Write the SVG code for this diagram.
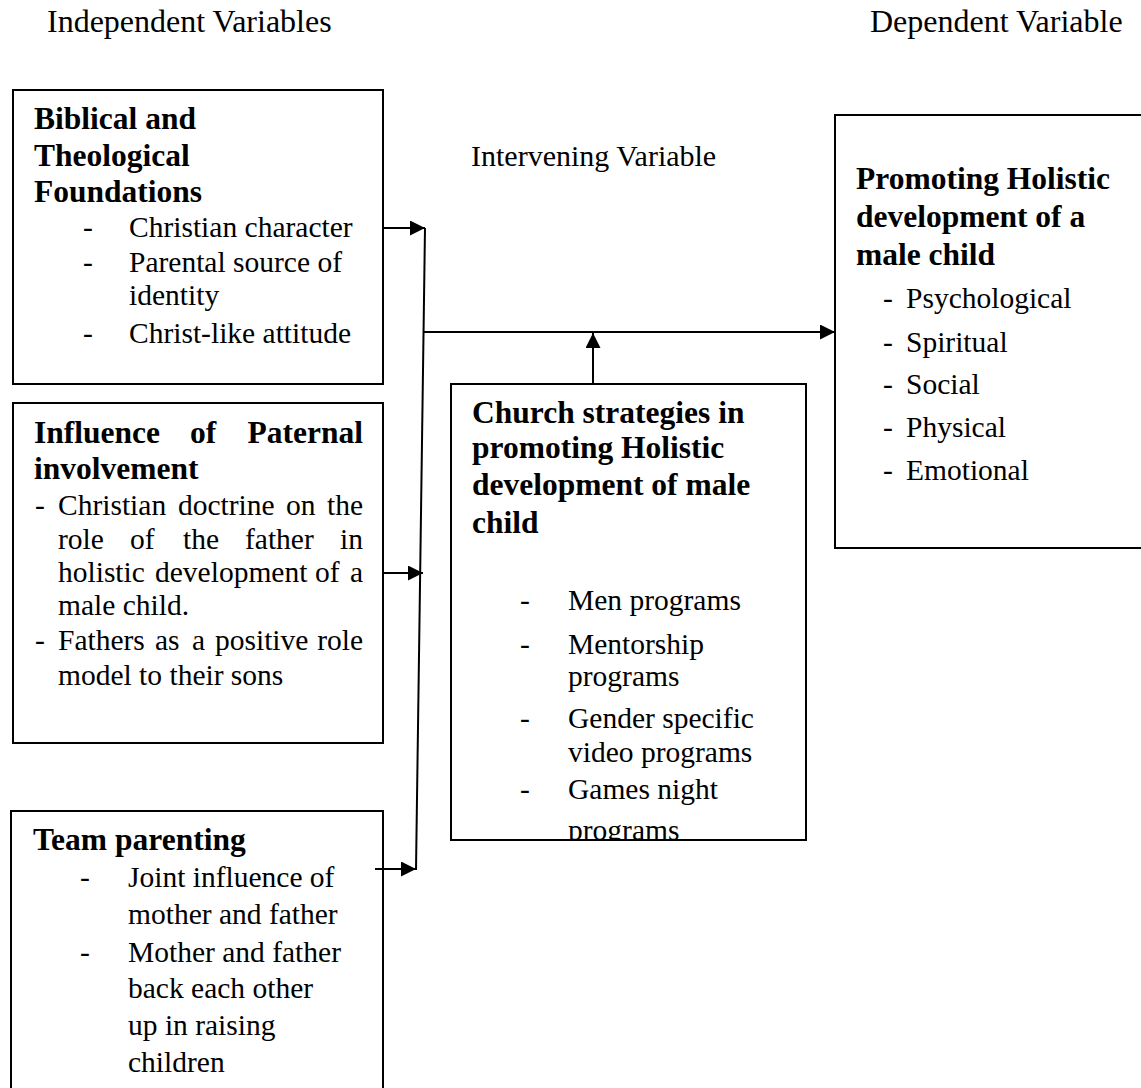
<svg xmlns="http://www.w3.org/2000/svg" width="1141" height="1088" viewBox="0 0 1141 1088">
<style>
text{font-family:"Liberation Serif","Times New Roman",serif;fill:#000}
.lbl{font-size:32px}
.h{font-size:31.5px;font-weight:bold}
.b{font-size:29.5px}
.box{fill:#fff;stroke:#000;stroke-width:2}
.ln{fill:none;stroke:#000;stroke-width:2}
</style>
<defs>
<marker id="ah" markerUnits="userSpaceOnUse" markerWidth="16" markerHeight="16" refX="15" refY="7.5" orient="auto">
<path d="M0,0 L15,7.5 L0,15 z" fill="#000"/>
</marker>
<clipPath id="cc"><rect x="452" y="385" width="353" height="454"/></clipPath>
</defs>
<rect width="1141" height="1088" fill="#fff"/>
<g id="labels">
<text class="lbl" x="47" y="32">Independent Variables</text>
<text class="lbl" x="870" y="32">Dependent Variable</text>
<text class="lbl" x="471" y="166" style="font-size:30px">Intervening Variable</text>
</g>
<g id="biblical">
<rect class="box" x="13" y="90" width="370" height="294"/>
<text class="h" x="34" y="129">Biblical and</text>
<text class="h" x="34" y="166">Theological</text>
<text class="h" x="34" y="202">Foundations</text>
<text class="b" x="83" y="237">-</text><text class="b" x="129" y="237">Christian character</text>
<text class="b" x="83" y="272">-</text><text class="b" x="129" y="272">Parental source of</text>
<text class="b" x="129" y="305">identity</text>
<text class="b" x="83" y="343">-</text><text class="b" x="129" y="343">Christ-like attitude</text>
</g>
<g id="paternal">
<rect class="box" x="13" y="403" width="370" height="340"/>
<text class="h" y="443"><tspan x="34">Influence</tspan><tspan x="190">of</tspan><tspan x="363" text-anchor="end">Paternal</tspan></text>
<text class="h" x="34" y="479">involvement</text>
<text class="b" y="515"><tspan x="35">-</tspan><tspan x="58">Christian</tspan><tspan x="178">doctrine</tspan><tspan x="286">on</tspan><tspan x="363" text-anchor="end">the</tspan></text>
<text class="b" y="549"><tspan x="58">role</tspan><tspan x="130">of</tspan><tspan x="183">the</tspan><tspan x="245">father</tspan><tspan x="363" text-anchor="end">in</tspan></text>
<text class="b" y="582"><tspan x="58">holistic</tspan><tspan x="155">development</tspan><tspan x="315">of</tspan><tspan x="363" text-anchor="end">a</tspan></text>
<text class="b" x="58" y="615">male child.</text>
<text class="b" y="650"><tspan x="35">-</tspan><tspan x="58">Fathers</tspan><tspan x="155">as</tspan><tspan x="192">a</tspan><tspan x="215">positive</tspan><tspan x="363" text-anchor="end">role</tspan></text>
<text class="b" x="58" y="685">model to their sons</text>
</g>
<g id="team">
<rect class="box" x="11" y="811" width="372" height="300"/>
<text class="h" x="33" y="850">Team parenting</text>
<text class="b" x="80" y="887">-</text><text class="b" x="128" y="887">Joint influence of</text>
<text class="b" x="128" y="924">mother and father</text>
<text class="b" x="80" y="962">-</text><text class="b" x="128" y="962">Mother and father</text>
<text class="b" x="128" y="998">back each other</text>
<text class="b" x="128" y="1035">up in raising</text>
<text class="b" x="128" y="1072">children</text>
</g>
<g id="church">
<rect class="box" x="451" y="384" width="355" height="456"/>
<g clip-path="url(#cc)">
<text class="h" x="472" y="423">Church strategies in</text>
<text class="h" x="472" y="458">promoting Holistic</text>
<text class="h" x="472" y="495">development of male</text>
<text class="h" x="472" y="533">child</text>
<text class="b" x="520" y="610">-</text><text class="b" x="568" y="610">Men programs</text>
<text class="b" x="520" y="654">-</text><text class="b" x="568" y="654">Mentorship</text>
<text class="b" x="568" y="686">programs</text>
<text class="b" x="520" y="728">-</text><text class="b" x="568" y="728">Gender specific</text>
<text class="b" x="568" y="762">video programs</text>
<text class="b" x="520" y="799">-</text><text class="b" x="568" y="799">Games night</text>
<text class="b" x="568" y="840">programs</text>
</g>
</g>
<g id="holistic">
<rect class="box" x="835" y="115" width="310" height="433"/>
<text class="h" x="856" y="189">Promoting Holistic</text>
<text class="h" x="856" y="227">development of a</text>
<text class="h" x="856" y="265">male child</text>
<text class="b" x="883" y="308">-</text><text class="b" x="906" y="308">Psychological</text>
<text class="b" x="883" y="352">-</text><text class="b" x="906" y="352">Spiritual</text>
<text class="b" x="883" y="394">-</text><text class="b" x="906" y="394">Social</text>
<text class="b" x="883" y="437">-</text><text class="b" x="906" y="437">Physical</text>
<text class="b" x="883" y="480">-</text><text class="b" x="906" y="480">Emotional</text>
</g>
<g id="connectors">
<path class="ln" d="M383,228 H425" marker-end="url(#ah)"/>
<path class="ln" d="M383,573 H423" marker-end="url(#ah)"/>
<path class="ln" d="M375,869 H416" marker-end="url(#ah)"/>
<path class="ln" d="M425,228 L416,870"/>
<path class="ln" d="M424,332 H835" marker-end="url(#ah)"/>
<path class="ln" d="M593,384 V333" marker-end="url(#ah)"/>
</g>
</svg>
